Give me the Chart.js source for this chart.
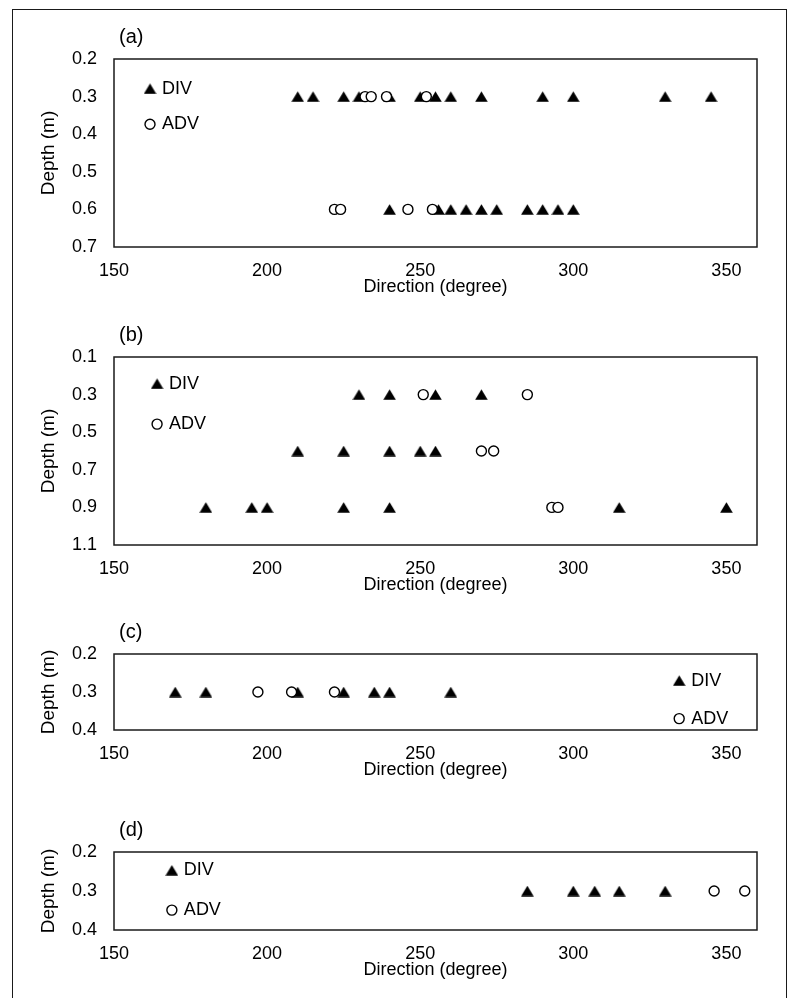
<!DOCTYPE html>
<html>
<head>
<meta charset="utf-8">
<script src="https://cdn.jsdelivr.net/npm/chart.js@4.4.1/dist/chart.umd.min.js"></script>
<style>
  body { margin: 0; background: #fff; overflow: hidden; }
  #page { position: relative; width: 788px; height: 998px; overflow: hidden; background: #fff; }
  #frame { position: absolute; left: 12px; top: 9px; width: 775px; height: 1100px;
           border: 1.5px solid #1a1a1a; box-sizing: border-box; }
  canvas { position: absolute; left: 0; }
</style>
</head>
<body>
<div id="page">
  <div id="frame"></div>
  <canvas id="chartA" width="788" height="279" style="top:19px"></canvas>
  <canvas id="chartB" width="788" height="279" style="top:317px"></canvas>
  <canvas id="chartC" width="788" height="167" style="top:614px"></canvas>
  <canvas id="chartD" width="788" height="169" style="top:812px"></canvas>
</div>
<script>
/*Ejes*/
var xTicks = [150, 200, 250, 300, 350];
var yTicksA = [0.2, 0.3, 0.4, 0.5, 0.6, 0.7];
var yTicksB = [0.1, 0.3, 0.5, 0.7, 0.9, 1.1];
var yTicksC = [0.2, 0.3, 0.4];
var yTicksD = [0.2, 0.3, 0.4];

/*Direcciones (grados) por profundidad*/
var aDiv03 = [210, 215, 225, 230, 240, 250, 255, 260, 270, 290, 300, 330, 345];
var aAdv03 = [232, 234, 239, 252];
var aDiv06 = [240, 256, 260, 265, 270, 275, 285, 290, 295, 300];
var aAdv06 = [222, 224, 246, 254];

var bDiv03 = [230, 240, 255, 270];
var bAdv03 = [251, 285];
var bDiv06 = [210, 225, 240, 250, 255];
var bAdv06 = [270, 274];
var bDiv09 = [180, 195, 200, 225, 240, 315, 350];
var bAdv09 = [293, 295];

var cDiv03 = [170, 180, 210, 225, 235, 240, 260];
var cAdv03 = [197, 208, 222];

var dDiv03 = [285, 300, 307, 315, 330];
var dAdv03 = [346, 356];

var FONT = "'Liberation Sans', Arial, sans-serif", FONT_SIZE = 18;

/*Triangulo relleno centrado en su caja*/
var triangleMark = (function(){
    var c = document.createElement('canvas'), g;
    c.width = 13; c.height = 11;
    g = c.getContext('2d');
    g.fillStyle = '#000';
    g.beginPath();
    g.moveTo(6.5, 0.3);
    g.lineTo(12.8, 10.8);
    g.lineTo(0.2, 10.8);
    g.closePath();
    g.fill();
    return c;
})();

function toPoints(rows){
    var list = [], i, j;
    for(i = 0; i < rows.length; i++){
        for(j = 0; j < rows[i][1].length; j++){
            list.push({x: rows[i][1][j], y: rows[i][0]});
        }
    }
    return list;
}

/*Marco, etiqueta del panel y leyenda interna*/
var panelDecor = {
    id: 'panelDecor',
    afterDatasetsDraw: function(chart, args, opts){
        var ctx = chart.ctx, area = chart.chartArea,
            w = area.right - area.left, h = area.bottom - area.top;
        ctx.save();
        ctx.lineWidth = 1.5;
        ctx.strokeStyle = '#1a1a1a';
        ctx.strokeRect(area.left, area.top, w, h);
        ctx.textBaseline = 'middle';
        ctx.textAlign = 'left';
        ctx.fillStyle = '#000';
        ctx.font = '20px ' + FONT;
        ctx.fillText(opts.label, area.left + 5, area.top - 22);
        ctx.font = FONT_SIZE + 'px ' + FONT;
        chart.data.datasets.forEach(function(ds, i){
            var px = area.left + opts.legendX * w,
                py = area.top + opts.legendY[i] * h;
            ctx.fillStyle = ds.backgroundColor;
            ctx.strokeStyle = ds.borderColor;
            ctx.lineWidth = ds.borderWidth;
            Chart.helpers.drawPoint(ctx, {pointStyle: ds.pointStyle, radius: ds.pointRadius,
                borderWidth: ds.borderWidth, rotation: 0}, px, py);
            ctx.fillStyle = '#000';
            ctx.fillText(ds.label, px + 12, py);
        });
        ctx.restore();
    }
};

function buildPanel(idCanvas, label, yTicks, divRows, advRows, legendX, legendY){
    var font = {family: FONT, size: FONT_SIZE};
    return new Chart(document.getElementById(idCanvas), {
        type: 'scatter',
        data: {
            datasets: [{
                label: 'DIV', data: toPoints(divRows), order: 1,
                pointStyle: triangleMark, pointRadius: 7, borderWidth: 0,
                backgroundColor: '#000', borderColor: '#000'
            }, {
                label: 'ADV', data: toPoints(advRows), order: 0,
                pointStyle: 'circle', pointRadius: 5, borderWidth: 1.4,
                backgroundColor: '#fff', borderColor: '#000'
            }]
        },
        options: {
            responsive: false, animation: false,
            layout: {padding: {left: 37, right: 31, top: 40, bottom: 0}},
            plugins: {
                legend: {display: false}, tooltip: {enabled: false},
                panelDecor: {label: label, legendX: legendX, legendY: legendY}
            },
            scales: {
                x: {
                    type: 'linear', min: 150, max: 360,
                    grid: {display: false, drawTicks: false}, border: {display: false},
                    afterBuildTicks: function(s){ s.ticks = xTicks.map(function(v){ return {value: v}; }); },
                    afterFit: function(s){ s.height = 51; },
                    ticks: {padding: 13, color: '#000', font: font, maxRotation: 0},
                    title: {display: true, text: 'Direction (degree)', padding: 0, color: '#000', font: font}
                },
                y: {
                    type: 'linear', reverse: true, min: yTicks[0], max: yTicks[yTicks.length - 1],
                    grid: {display: false, drawTicks: false}, border: {display: false},
                    afterBuildTicks: function(s){ s.ticks = yTicks.map(function(v){ return {value: v}; }); },
                    afterFit: function(s){ s.width = 77; },
                    ticks: {padding: 17, color: '#000', font: font,
                        callback: function(v){ return v.toFixed(1); }},
                    title: {display: true, text: 'Depth (m)', padding: 0, color: '#000',
                        font: {family: FONT, size: 19}}
                }
            }
        },
        plugins: [panelDecor]
    });
}

buildPanel('chartA', '(a)', yTicksA, [[0.3, aDiv03], [0.6, aDiv06]], [[0.3, aAdv03], [0.6, aAdv06]],
    0.056, [0.158, 0.347]);
buildPanel('chartB', '(b)', yTicksB, [[0.3, bDiv03], [0.6, bDiv06], [0.9, bDiv09]],
    [[0.3, bAdv03], [0.6, bAdv06], [0.9, bAdv09]], 0.067, [0.142, 0.357]);
buildPanel('chartC', '(c)', yTicksC, [[0.3, cDiv03]], [[0.3, cAdv03]], 0.879, [0.35, 0.85]);
buildPanel('chartD', '(d)', yTicksD, [[0.3, dDiv03]], [[0.3, dAdv03]], 0.09, [0.234, 0.745]);
</script>
</body>
</html>
